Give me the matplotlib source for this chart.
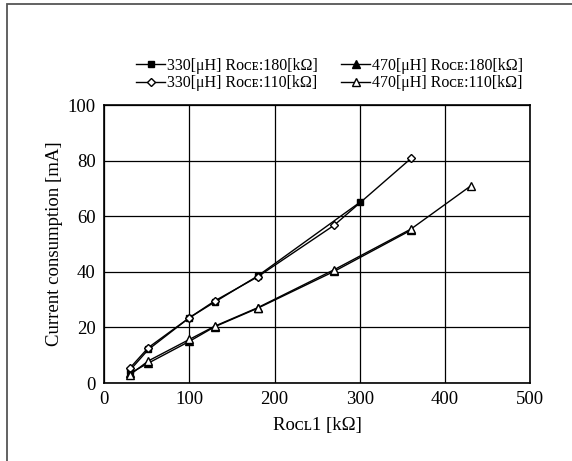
import matplotlib.pyplot as plt
from matplotlib.patches import Rectangle

plt.rcParams['font.family'] = ['Liberation Serif', 'DejaVu Serif']

# data
x_330_180 = [30, 52, 100, 130, 180, 300]
y_330_180 = [4.5, 12.1, 23.5, 29.2, 38.5, 65]
x_330_110 = [30, 52, 100, 130, 180, 270, 360]
y_330_110 = [5.3, 12.8, 23.5, 29.6, 38.2, 56.8, 80.8]
x_470_180 = [30, 52, 100, 130, 180, 270, 360]
y_470_180 = [3.5, 7.2, 15, 20.3, 26.9, 40.2, 55]
x_470_110 = [30, 52, 100, 130, 180, 270, 360, 430]
y_470_110 = [2.9, 8.0, 15.7, 20.5, 27.1, 40.8, 55.4, 70.9]

labels = ['330[μH] Rᴏᴄᴇ:180[kΩ]', '330[μH] Rᴏᴄᴇ:110[kΩ]',
          '470[μH] Rᴏᴄᴇ:180[kΩ]', '470[μH] Rᴏᴄᴇ:110[kΩ]']

fig = plt.figure(figsize=(5.72, 4.61), dpi=100)
ax = fig.add_axes([0.182, 0.169, 0.745, 0.603])

# outer frame, only left and top edges fall inside the picture
fig.patches.append(Rectangle((0.012, -0.05), 1.1, 1.041, transform=fig.transFigure,
                             fill=False, edgecolor='#555555', lw=1.3))

l1, = ax.plot(x_330_180, y_330_180, color='black', lw=1, marker='s', ms=5,
              mfc='black', mec='black', zorder=3)
l2, = ax.plot(x_470_180, y_470_180, color='black', lw=1, marker='^', ms=5.5,
              mfc='black', mec='black', zorder=3)
l3, = ax.plot(x_330_110, y_330_110, color='black', lw=1, marker='D', ms=4.3,
              mfc='white', mec='black', zorder=4)
l4, = ax.plot(x_470_110, y_470_110, color='black', lw=1, marker='^', ms=6,
              mfc='white', mec='black', zorder=4)

ax.set_xlim(0, 500)
ax.set_ylim(0, 100)
ax.set_xticks(range(0, 501, 100))
ax.set_yticks(range(0, 101, 20))
ax.grid(True, color='black', lw=0.9)
ax.set_axisbelow(True)
for s in ax.spines.values():
    s.set_linewidth(1.2)
ax.tick_params(length=0, labelsize=13.5, pad=6)

ax.set_xlabel('Rᴏᴄʟ1 [kΩ]', fontsize=13.5, labelpad=6)
ax.set_ylabel('Current consumption [mA]', fontsize=13.5, labelpad=3)

ax.legend([l1, l3, l2, l4], labels, ncol=2, loc='lower left',
          bbox_to_anchor=(0.238, 0.802), bbox_transform=fig.transFigure,
          frameon=False, fontsize=11.5, borderpad=0, borderaxespad=0,
          handlelength=1.8, handletextpad=0.15, columnspacing=1.45,
          labelspacing=0.1)

fig.savefig('out.png', dpi=100)
